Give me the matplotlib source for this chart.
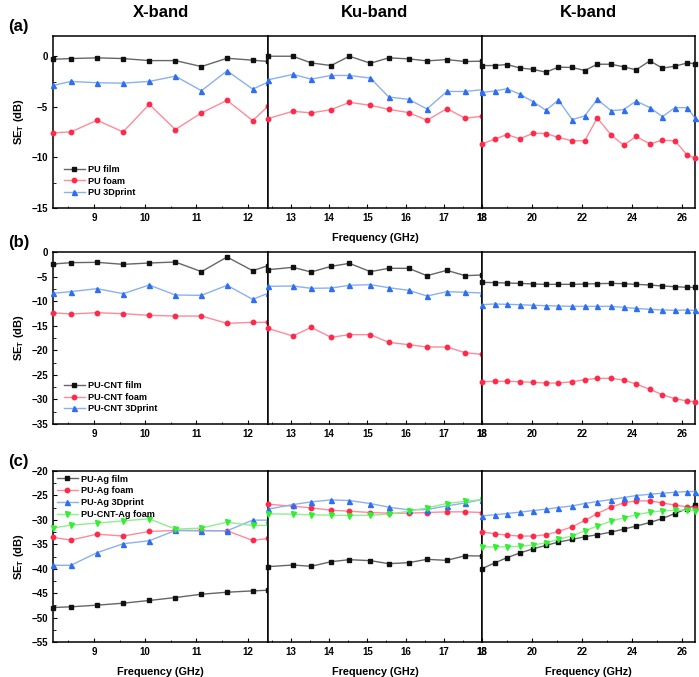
# SE_T vs frequency for PU samples in X, Ku and K band
import numpy as np
import matplotlib.pyplot as plt

plt.rcParams['font.family'] = ['Liberation Sans', 'DejaVu Sans']
plt.rcParams['font.weight'] = 'bold'
plt.rcParams['mathtext.default'] = 'bf'

# frequency points (GHz)
f_x = [8.2, 8.55, 9.06, 9.57, 10.08, 10.59, 11.1, 11.6, 12.1, 12.4]
f_ku = [12.4, 13.05, 13.53, 14.05, 14.53, 15.08, 15.56, 16.08, 16.56, 17.08, 17.56, 18.0]
f_k = [18.0, 18.5, 19.0, 19.5, 20.05, 20.55, 21.05, 21.6, 22.1, 22.6, 23.15, 23.65,
       24.15, 24.7, 25.2, 25.7, 26.2, 26.5]

# (a) PU
pu_film_x = [-0.3, -0.23, -0.16, -0.23, -0.43, -0.43, -1.02, -0.2, -0.39, -0.52]
pu_foam_x = [-7.57, -7.48, -6.33, -7.48, -4.75, -7.25, -5.6, -4.36, -6.36, -4.95]
pu_3d_x = [-2.89, -2.49, -2.62, -2.66, -2.49, -1.97, -3.41, -1.44, -3.25, -2.56]
pu_film_ku = [0.0, 0.0, -0.66, -0.92, 0.0, -0.69, -0.16, -0.26, -0.46, -0.33, -0.52, -0.49]
pu_foam_ku = [-6.16, -5.44, -5.6, -5.28, -4.56, -4.85, -5.25, -5.57, -6.33, -5.18, -6.13, -5.93]
pu_3d_ku = [-2.33, -1.8, -2.26, -1.9, -1.9, -2.16, -4.03, -4.26, -5.21, -3.48, -3.48, -3.31]
pu_film_k = [-0.92, -0.92, -0.82, -1.15, -1.31, -1.57, -1.08, -1.11, -1.41, -0.79, -0.79,
             -1.05, -1.34, -0.46, -1.18, -0.98, -0.66, -0.75]
pu_foam_k = [-8.66, -8.2, -7.74, -8.16, -7.61, -7.64, -8.03, -8.36, -8.36, -6.1, -7.77,
             -8.79, -7.93, -8.66, -8.3, -8.36, -9.8, -10.03]
pu_3d_k = [-3.57, -3.44, -3.21, -3.74, -4.52, -5.34, -4.33, -6.26, -5.9, -4.26, -5.38,
           -5.28, -4.43, -5.08, -5.97, -5.08, -5.08, -6.13]

# (b) PU-CNT
cnt_film_x = [-2.44, -2.17, -2.1, -2.51, -2.24, -2.04, -4.0, -1.02, -3.8, -2.78]
cnt_foam_x = [-12.35, -12.62, -12.35, -12.55, -12.89, -13.03, -13.03, -14.52, -14.31, -14.31]
cnt_3d_x = [-8.41, -8.07, -7.46, -8.48, -6.72, -8.75, -8.82, -6.78, -9.63, -8.41]
cnt_film_ku = [-3.6, -3.12, -4.07, -2.92, -2.31, -4.0, -3.32, -3.32, -4.82, -3.73, -4.82, -4.68]
cnt_foam_ku = [-15.54, -17.1, -15.33, -17.37, -16.82, -16.82, -18.39, -18.86, -19.33,
               -19.33, -20.49, -20.83]
cnt_3d_ku = [-6.99, -6.92, -7.39, -7.33, -6.78, -6.65, -7.26, -7.8, -8.96, -8.07, -8.2, -8.34]
cnt_film_k = [-6.17, -6.24, -6.31, -6.38, -6.51, -6.58, -6.58, -6.58, -6.51, -6.45, -6.38,
              -6.45, -6.58, -6.72, -6.92, -7.06, -7.19, -7.19]
cnt_foam_k = [-26.39, -26.32, -26.32, -26.39, -26.53, -26.66, -26.66, -26.39, -25.98,
              -25.71, -25.71, -26.05, -26.87, -27.95, -29.04, -29.85, -30.33, -30.46]
cnt_3d_k = [-10.72, -10.58, -10.65, -10.72, -10.85, -10.92, -10.99, -11.06, -11.06, -11.06,
            -11.06, -11.26, -11.47, -11.67, -11.8, -11.87, -11.8, -11.87]

# (c) PU-Ag
ag_film_x = [-47.94, -47.8, -47.46, -47.06, -46.5, -45.9, -45.22, -44.81, -44.54, -44.4]
ag_foam_x = [-33.6, -34.14, -32.92, -33.32, -32.37, -32.17, -32.17, -32.24, -34.21, -33.8]
ag_3d_x = [-39.3, -39.3, -36.72, -34.89, -34.28, -32.17, -32.24, -32.24, -30.06, -30.06]
cntag_foam_x = [-31.69, -31.08, -30.67, -30.2, -29.79, -31.9, -31.69, -30.47, -31.15, -31.15]
ag_film_ku = [-39.58, -39.24, -39.51, -38.56, -38.15, -38.35, -38.97, -38.76, -38.08,
              -38.29, -37.34, -37.4]
ag_foam_ku = [-26.8, -27.2, -27.55, -28.02, -28.23, -28.5, -28.63, -28.63, -28.5, -28.36,
              -28.36, -28.5]
ag_3d_ku = [-27.82, -26.87, -26.32, -25.91, -26.05, -26.66, -27.41, -27.95, -27.89, -27.14,
            -26.53, -25.85]
cntag_foam_ku = [-28.77, -28.84, -28.97, -29.04, -29.11, -29.04, -28.84, -28.23, -27.55,
                 -26.66, -26.19, -25.85]
ag_film_k = [-39.99, -38.83, -37.74, -36.79, -35.91, -35.23, -34.55, -34.0, -33.46, -33.05,
             -32.51, -31.9, -31.28, -30.54, -29.72, -28.7, -27.68, -27.0]
ag_foam_k = [-32.44, -32.85, -33.12, -33.32, -33.32, -33.05, -32.37, -31.42, -30.13, -28.7,
             -27.41, -26.53, -26.12, -26.12, -26.53, -27.0, -27.34, -27.55]
ag_3d_k = [-29.18, -28.97, -28.7, -28.43, -28.09, -27.82, -27.48, -27.14, -26.66, -26.25,
           -25.85, -25.44, -25.03, -24.76, -24.55, -24.35, -24.21, -24.21]
cntag_foam_k = [-35.5, -35.57, -35.5, -35.43, -35.16, -34.68, -34.0, -33.26, -32.24, -31.28,
                -30.27, -29.59, -28.97, -28.43, -28.16, -28.02, -28.02, -28.09]

bands = ['X-band', 'Ku-band', 'K-band']
freqs = [f_x, f_ku, f_k]

rows = [
    {'label': '(a)', 'ylim': (-15, 2), 'yticks': [-15, -10, -5, 0], 'legend': 'lower left',
     'series': [('PU film', 'k', [pu_film_x, pu_film_ku, pu_film_k]),
                ('PU foam', 'r', [pu_foam_x, pu_foam_ku, pu_foam_k]),
                ('PU 3Dprint', 'b', [pu_3d_x, pu_3d_ku, pu_3d_k])]},
    {'label': '(b)', 'ylim': (-35, 0), 'yticks': list(range(-35, 1, 5)), 'legend': 'lower left',
     'series': [('PU-CNT film', 'k', [cnt_film_x, cnt_film_ku, cnt_film_k]),
                ('PU-CNT foam', 'r', [cnt_foam_x, cnt_foam_ku, cnt_foam_k]),
                ('PU-CNT 3Dprint', 'b', [cnt_3d_x, cnt_3d_ku, cnt_3d_k])]},
    {'label': '(c)', 'ylim': (-55, -20), 'yticks': list(range(-55, -19, 5)), 'legend': 'upper left',
     'series': [('PU-Ag film', 'k', [ag_film_x, ag_film_ku, ag_film_k]),
                ('PU-Ag foam', 'r', [ag_foam_x, ag_foam_ku, ag_foam_k]),
                ('PU-Ag 3Dprint', 'b', [ag_3d_x, ag_3d_ku, ag_3d_k]),
                ('PU-CNT-Ag foam', 'g', [cntag_foam_x, cntag_foam_ku, cntag_foam_k])]},
]

# marker colour, line colour, marker
styles = {'k': ('#111111', '#666666', 's'),
          'r': ('#ff2a4a', '#ff8a9a', 'o'),
          'b': ('#2f6fef', '#8ab0f2', '^'),
          'g': ('#33ee33', '#90ee90', 'v')}

xlims = [(8.2, 12.4), (12.4, 18.0), (18.0, 26.5)]
xmajor = [[9, 10, 11, 12], [13, 14, 15, 16, 17, 18], [18, 20, 22, 24, 26]]
xminor = [[8.5, 9.5, 10.5, 11.5], [12.5, 13.5, 14.5, 15.5, 16.5, 17.5], [19, 21, 23, 25]]

W, H = 699, 677
fig = plt.figure(figsize=(W / 100, H / 100), dpi=100)

col_x = [53, 268, 482, 695]
row_y = [(36, 208), (252, 424), (471, 642)]

for r, row in enumerate(rows):
    top, bot = row_y[r]
    for c in range(3):
        ax = fig.add_axes([col_x[c] / W, 1 - bot / H, (col_x[c + 1] - col_x[c]) / W, (bot - top) / H])
        handles = []
        for name, key, data in row['series']:
            mc, lc, mk = styles[key]
            ms = 3.6 if mk in '^v' else 3.2
            h, = ax.plot(freqs[c], data[c], color=lc, lw=1.0, marker=mk, ms=ms,
                         mfc=mc, mec=mc, label=name, clip_on=False, zorder=3)
            handles.append(h)
        ax.set_xlim(*xlims[c])
        ax.set_ylim(*row['ylim'])
        ax.set_xticks(xmajor[c])
        ax.set_xticks(xminor[c], minor=True)
        ax.tick_params(axis='both', which='both', direction='in', labelsize=7)
        ax.tick_params(which='major', length=3)
        ax.tick_params(which='minor', length=1.8)
        for sp in ax.spines.values():
            sp.set_linewidth(1.1)
        if c == 0:
            ax.set_yticks(row['yticks'])
            ax.set_yticks(np.arange(row['ylim'][0], row['ylim'][1], 2.5), minor=True)
            ax.set_ylabel(r'SE$_\mathregular{T}$ (dB)', fontsize=8, fontweight='bold', labelpad=4)
            ax.text(-0.21, 1.01, row['label'], transform=ax.transAxes, fontsize=12,
                    fontweight='bold', va='bottom')
            pad = 0.05 if r == 2 else 0.8
            ax.legend(handles=handles, loc=row['legend'], frameon=False, fontsize=6.6,
                      handlelength=2.3, labelspacing=0.3, borderaxespad=pad,
                      borderpad=0.35, handletextpad=0.4)
        else:
            ax.set_yticks([])
            ax.tick_params(axis='y', which='both', left=False, labelleft=False)
        if r == 0:
            ax.set_title(bands[c], fontsize=12, fontweight='bold', pad=14)
        if (r == 0 and c == 1) or r == 2:
            ax.set_xlabel('Frequency (GHz)', fontsize=7.8, fontweight='bold', labelpad=7)

fig.savefig('out.png', dpi=100)
